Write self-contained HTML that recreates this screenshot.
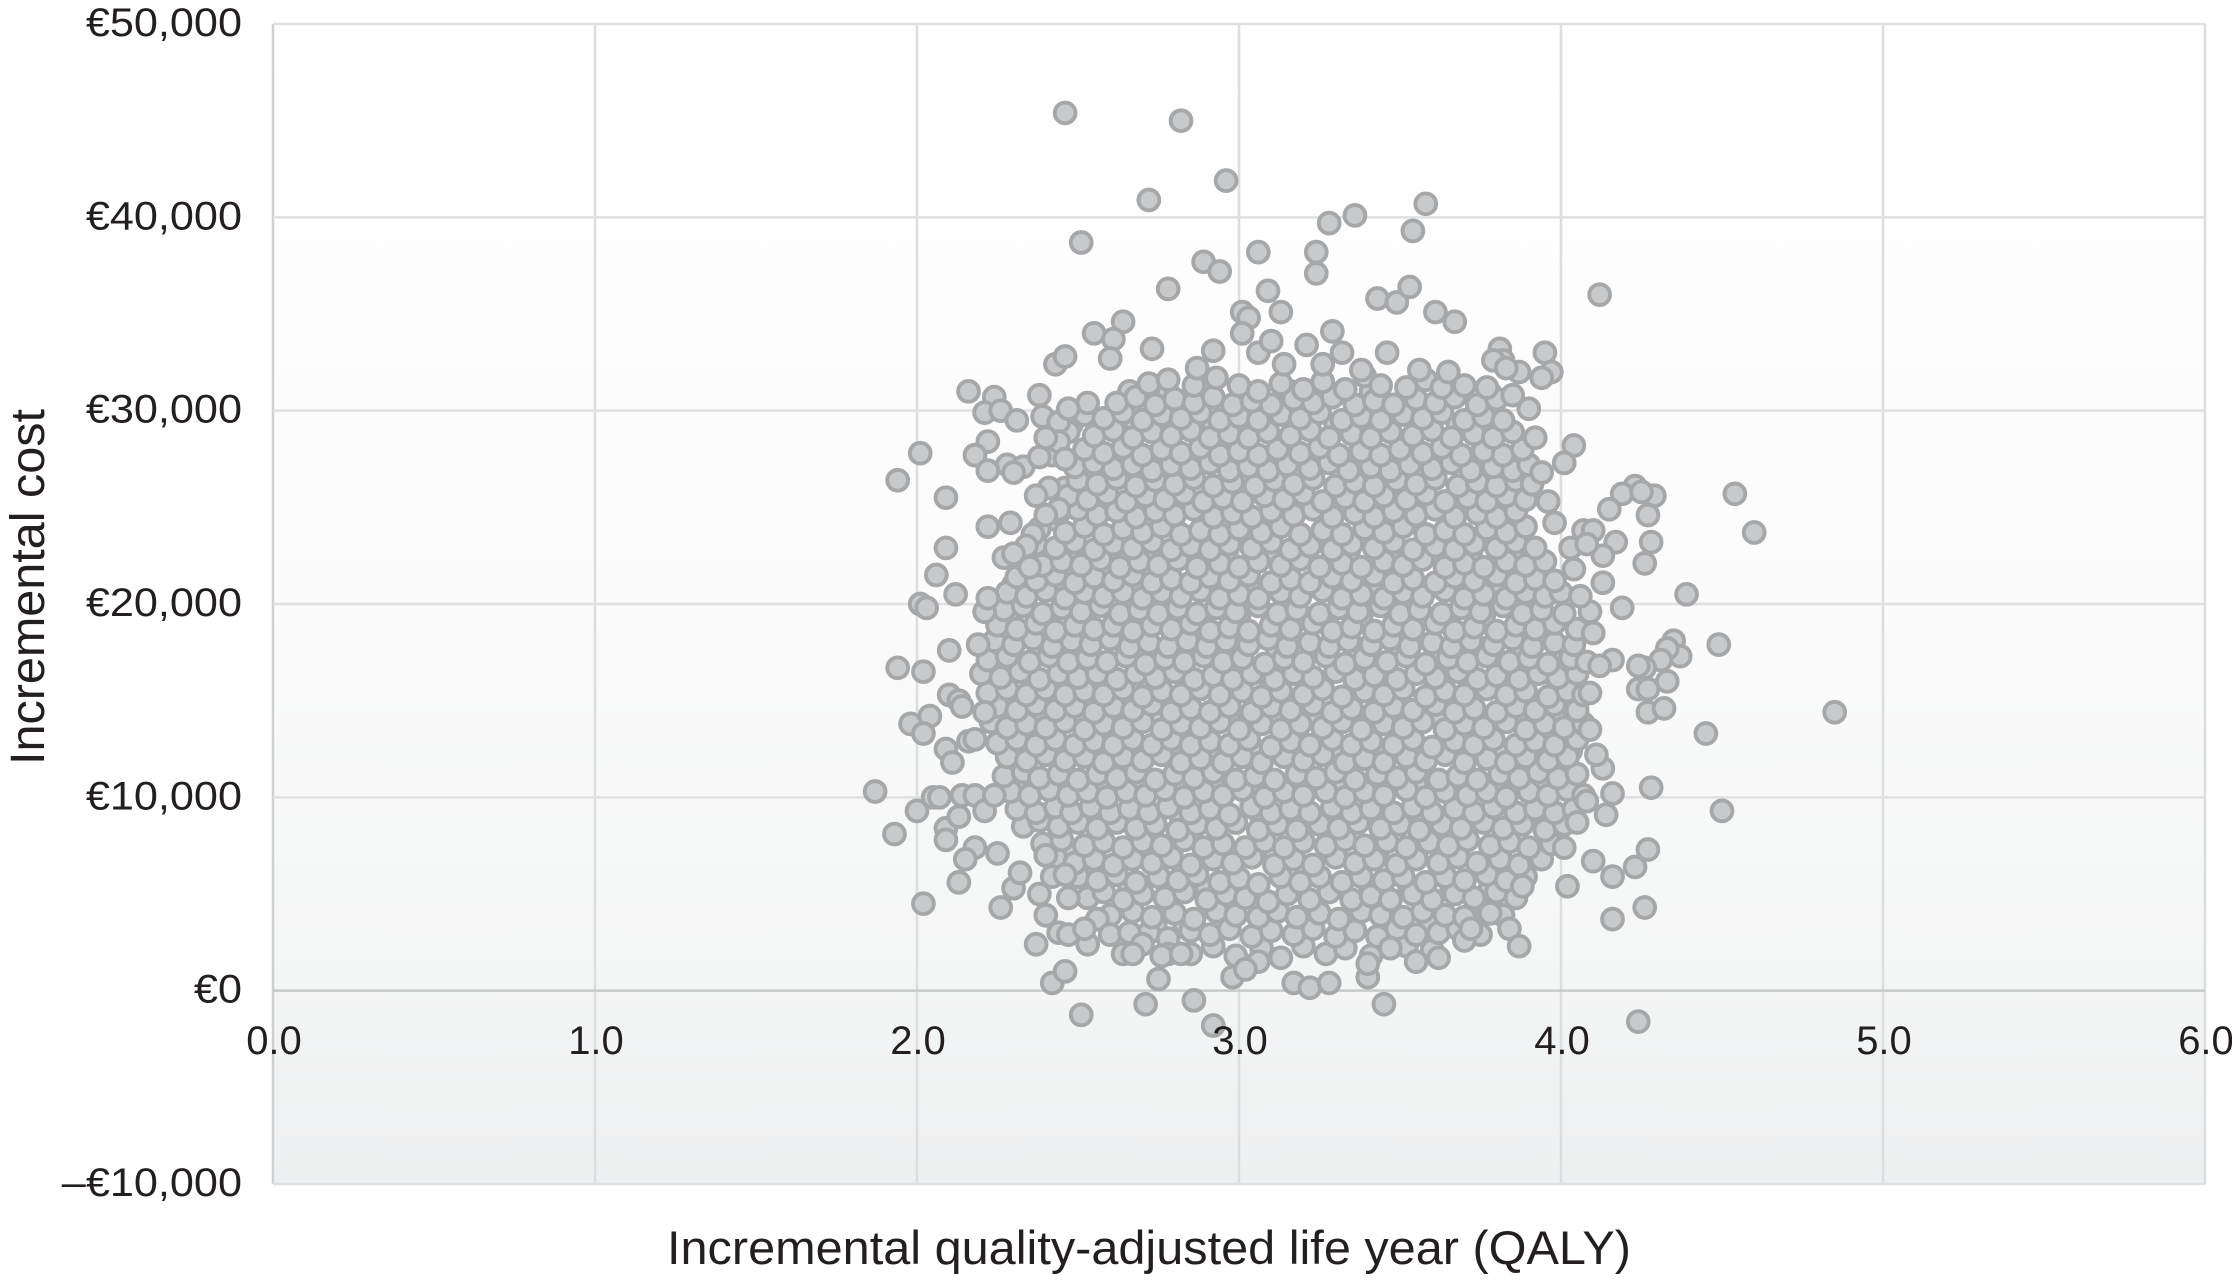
<!DOCTYPE html>
<html lang="en">
<head>
<meta charset="utf-8">
<title>Incremental cost-effectiveness scatter plot</title>
<style>
html,body{margin:0;padding:0;background:#fff;}
svg{display:block;}
text{font-family:"Liberation Sans",Arial,sans-serif;fill:#231f20;}
</style>
</head>
<body>
<svg id="chart" width="2232" height="1287" viewBox="0 0 2232 1287" xmlns="http://www.w3.org/2000/svg">
<defs>
<linearGradient id="plotGradient" x1="0" y1="0" x2="0" y2="1">
<stop offset="0" stop-color="#ffffff"/>
<stop offset="0.5" stop-color="#fbfbfb"/>
<stop offset="0.8" stop-color="#f5f6f6"/>
<stop offset="1" stop-color="#eeeff0"/>
</linearGradient>
</defs>
<rect x="273" y="24" width="1932" height="1160" fill="url(#plotGradient)"/>
<g id="grid"></g>
<g id="points"></g>
<g id="xticks"></g>
<g id="yticks"></g>
<text id="xtitle" x="667" y="1264" font-size="47" textLength="964" lengthAdjust="spacingAndGlyphs">Incremental quality-adjusted life year (QALY)</text>
<text id="ytitle" transform="translate(44,587) rotate(-90)" text-anchor="middle" font-size="48" textLength="356" lengthAdjust="spacingAndGlyphs">Incremental cost</text>
</svg>
<script>
const xTickValues=[0,1,2,3,4,5,6];
const xTickLabels=["0.0","1.0","2.0","3.0","4.0","5.0","6.0"];
const yTickValues=[50,40,30,20,10,0,-10];
const yTickLabels=["€50,000","€40,000","€30,000","€20,000","€10,000","€0","–€10,000"];
// each pair: [incremental QALY, incremental cost in thousand euro]
const fillPoints=[
[2.74,3.4],[2.83,3.5],[2.95,3.5],[3.08,3.4],[3.2,3.5],[3.34,3.4],[3.46,3.5],[3.59,3.4],[3.71,3.5],
[2.56,5.3],[2.66,5.3],[2.78,5.4],[2.9,5.3],[3.03,5.2],[3.16,5.3],[3.28,5.4],[3.41,5.3],[3.53,5.3],[3.66,5.4],[3.78,5.3],
[2.46,7.3],[2.55,7.1],[2.67,7.2],[2.79,7.1],[2.92,7.2],[3.05,7.1],[3.17,7.2],[3.3,7.1],[3.43,7.2],[3.55,7.1],[3.68,7.2],[3.81,7.1],[3.93,7.2],
[2.36,9],[2.46,8.9],[2.58,8.9],[2.7,8.9],[2.82,9],[2.94,8.9],[3.07,9],[3.19,8.9],[3.32,9],[3.45,8.9],[3.57,9],[3.7,8.9],[3.82,9],[3.95,8.9],
[2.32,10.7],[2.44,10.7],[2.56,10.7],[2.68,10.6],[2.8,10.7],[2.92,10.7],[3.05,10.6],[3.17,10.7],[3.3,10.6],[3.42,10.7],[3.55,10.6],[3.67,10.7],[3.8,10.6],[3.93,10.7],[4.04,10.6],
[2.3,12.5],[2.43,12.5],[2.55,12.4],[2.67,12.5],[2.79,12.4],[2.91,12.5],[3.04,12.4],[3.17,12.5],[3.29,12.4],[3.42,12.5],[3.54,12.4],[3.67,12.5],[3.8,12.4],[3.92,12.5],[4.03,12.4],
[2.26,14.3],[2.37,14.2],[2.49,14.2],[2.61,14.2],[2.73,14.3],[2.85,14.2],[2.97,14.3],[3.1,14.2],[3.23,14.2],[3.35,14.2],[3.48,14.3],[3.61,14.2],[3.73,14.2],[3.86,14.3],[3.98,14.2],
[2.25,16],[2.37,15.9],[2.49,15.9],[2.61,16],[2.73,15.9],[2.85,15.9],[2.97,16],[3.1,15.9],[3.23,15.9],[3.36,16],[3.48,15.9],[3.61,15.9],[3.73,16],[3.86,15.9],[3.99,15.9],
[2.27,17.7],[2.39,17.6],[2.51,17.6],[2.63,17.7],[2.75,17.6],[2.87,17.6],[2.99,17.7],[3.12,17.6],[3.25,17.6],[3.37,17.7],[3.5,17.6],[3.63,17.6],[3.75,17.7],[3.88,17.6],[4,17.6],
[2.28,19.4],[2.4,19.3],[2.52,19.3],[2.64,19.4],[2.76,19.3],[2.88,19.3],[3,19.4],[3.13,19.3],[3.26,19.3],[3.38,19.4],[3.51,19.3],[3.64,19.3],[3.76,19.4],[3.89,19.3],[4,19.3],
[2.3,21],[2.43,21],[2.55,21],[2.67,21],[2.79,21.1],[2.91,21],[3.03,21],[3.16,21],[3.29,21.1],[3.41,21],[3.54,21],[3.66,21],[3.79,21.1],[3.92,21],
[2.36,22.7],[2.48,22.7],[2.6,22.7],[2.72,22.7],[2.84,22.6],[2.96,22.7],[3.09,22.7],[3.21,22.6],[3.34,22.7],[3.47,22.7],[3.59,22.6],[3.72,22.7],[3.85,22.7],
[2.42,24.4],[2.53,24.4],[2.65,24.3],[2.77,24.4],[2.89,24.4],[3.02,24.3],[3.14,24.4],[3.27,24.4],[3.4,24.3],[3.52,24.4],[3.65,24.4],[3.77,24.3],
[2.46,26],[2.58,26],[2.7,26],[2.82,25.9],[2.94,26],[3.07,26],[3.19,25.9],[3.32,26],[3.45,26],[3.57,25.9],[3.7,26],[3.82,26],
[2.42,27.7],[2.52,27.7],[2.62,27.6],[2.74,27.6],[2.86,27.7],[2.98,27.6],[3.11,27.6],[3.24,27.7],[3.36,27.6],[3.49,27.6],[3.62,27.7],[3.74,27.6],[3.87,27.6],
[2.48,29.3],[2.57,29.3],[2.68,29.3],[2.8,29.2],[2.92,29.3],[3.05,29.3],[3.17,29.2],[3.3,29.3],[3.43,29.3],[3.55,29.2],[3.68,29.3],[3.8,29.3],
[2.66,31],[2.78,30.9],[2.9,31],[3.03,30.9],[3.16,31],[3.28,30.9],[3.41,31],[3.53,30.9],[3.66,31],[3.78,30.9]
];
const corePoints=[
[2.85,1.9],[2.92,2.3],[2.99,1.8],[3.07,2.2],[3.13,1.7],[3.2,2.3],[3.27,1.9],[3.33,2.2],[3.41,1.8],[3.52,2.3],[3.6,2.1],
[2.72,3],[2.78,2.7],[2.85,3.1],[2.91,2.9],[2.97,3.2],[3.04,2.8],[3.1,3.1],[3.17,2.9],[3.23,3.2],[3.3,2.8],[3.36,3.1],[3.43,2.8],[3.49,3.2],[3.55,2.9],[3.62,3],[3.68,3.2],[3.75,2.9],
[2.6,3.9],[2.67,4.1],[2.73,3.8],[2.8,4],[2.86,3.7],[2.93,4.1],[2.99,3.9],[3.06,3.8],[3.12,4.1],[3.18,3.8],[3.25,4],[3.31,3.7],[3.38,4.1],[3.44,3.9],[3.51,3.8],[3.57,4.1],[3.64,3.9],[3.7,3.8],[3.77,4.1],[3.82,3.9],
[2.53,4.8],[2.58,5.1],[2.64,4.7],[2.7,5],[2.77,4.8],[2.83,5.1],[2.9,4.7],[2.96,5],[3.02,4.8],[3.09,4.6],[3.15,5],[3.22,4.7],[3.28,5.1],[3.35,4.7],[3.41,4.9],[3.47,4.7],[3.54,5],[3.6,4.7],[3.67,5],[3.73,4.8],[3.8,5.1],[3.86,4.8],
[2.5,5.9],[2.56,5.7],[2.62,6],[2.68,5.6],[2.75,5.9],[2.81,5.7],[2.87,6],[2.94,5.6],[3,5.8],[3.06,5.5],[3.13,5.9],[3.19,5.6],[3.25,5.9],[3.32,5.6],[3.38,5.9],[3.45,5.7],[3.51,5.9],[3.58,5.6],[3.64,5.9],[3.7,5.7],[3.77,6],[3.83,5.7],[3.89,5.9],
[2.43,6.9],[2.49,6.6],[2.55,6.8],[2.61,6.5],[2.67,6.8],[2.73,6.6],[2.79,6.9],[2.85,6.5],[2.92,6.8],[2.98,6.6],[3.04,6.9],[3.11,6.5],[3.17,6.8],[3.23,6.5],[3.3,6.9],[3.36,6.6],[3.42,6.8],[3.49,6.5],[3.55,6.8],[3.62,6.6],[3.68,6.9],[3.74,6.6],[3.81,6.8],[3.87,6.5],[3.94,6.8],
[2.39,7.6],[2.45,7.8],[2.52,7.5],[2.58,7.7],[2.64,7.4],[2.7,7.7],[2.76,7.5],[2.83,7.8],[2.89,7.4],[2.95,7.6],[3.02,7.4],[3.08,7.7],[3.14,7.4],[3.2,7.7],[3.27,7.5],[3.33,7.8],[3.39,7.5],[3.46,7.7],[3.52,7.4],[3.59,7.7],[3.65,7.5],[3.71,7.8],[3.78,7.5],[3.84,7.7],[3.9,7.4],[3.97,7.6],
[2.33,8.5],[2.38,8.8],[2.44,8.5],[2.5,8.7],[2.56,8.4],[2.62,8.7],[2.68,8.4],[2.74,8.6],[2.81,8.3],[2.87,8.6],[2.93,8.4],[2.99,8.7],[3.06,8.3],[3.12,8.6],[3.18,8.3],[3.25,8.6],[3.31,8.4],[3.37,8.7],[3.44,8.4],[3.5,8.6],[3.56,8.3],[3.63,8.6],[3.69,8.4],[3.76,8.7],[3.82,8.4],[3.88,8.6],[3.95,8.3],[4.01,8.6],
[2.31,9.4],[2.37,9.2],[2.43,9.5],[2.48,9.2],[2.54,9.5],[2.6,9.2],[2.66,9.4],[2.72,9.2],[2.78,9.5],[2.85,9.2],[2.91,9.4],[2.97,9.1],[3.04,9.5],[3.1,9.2],[3.16,9.4],[3.22,9.2],[3.29,9.5],[3.35,9.2],[3.41,9.4],[3.48,9.2],[3.54,9.5],[3.6,9.2],[3.67,9.4],[3.73,9.2],[3.79,9.5],[3.86,9.2],[3.92,9.4],[3.98,9.2],[4.04,9.4],
[2.29,10.3],[2.35,10.1],[2.41,10.4],[2.47,10.1],[2.53,10.3],[2.59,10],[2.65,10.3],[2.71,10.1],[2.77,10.4],[2.83,10],[2.89,10.3],[2.95,10.1],[3.01,10.4],[3.08,10],[3.14,10.3],[3.2,10.1],[3.27,10.3],[3.33,10],[3.39,10.3],[3.45,10.1],[3.52,10.4],[3.58,10],[3.64,10.3],[3.71,10.1],[3.77,10.3],[3.83,10],[3.9,10.3],[3.96,10.1],[4.02,10.4],[4.07,10.1],
[2.27,11.1],[2.33,11.3],[2.38,11],[2.44,11.2],[2.5,10.9],[2.56,11.2],[2.62,11],[2.68,11.3],[2.74,10.9],[2.8,11.2],[2.86,11],[2.92,11.3],[2.99,10.9],[3.05,11.1],[3.11,10.9],[3.18,11.2],[3.24,11],[3.3,11.3],[3.36,10.9],[3.43,11.2],[3.49,11],[3.55,11.3],[3.62,10.9],[3.68,11.1],[3.74,10.9],[3.81,11.2],[3.87,11],[3.93,11.3],[3.99,11],[4.05,11.2],
[2.28,12.1],[2.34,11.9],[2.4,12.2],[2.46,11.9],[2.52,12.1],[2.58,11.8],[2.64,12.1],[2.7,11.9],[2.76,12.2],[2.82,11.8],[2.88,12],[2.95,11.8],[3.01,12.1],[3.07,11.8],[3.14,12.1],[3.2,11.9],[3.26,12.2],[3.33,11.8],[3.39,12],[3.45,11.8],[3.52,12.1],[3.58,11.9],[3.64,12.2],[3.7,11.8],[3.77,12],[3.83,11.8],[3.89,12.1],[3.96,11.9],[4.02,12.1],
[2.25,12.8],[2.31,13],[2.37,12.7],[2.43,13],[2.49,12.7],[2.55,12.9],[2.61,12.7],[2.67,13],[2.73,12.7],[2.79,13],[2.85,12.7],[2.91,12.9],[2.97,12.7],[3.03,13],[3.1,12.6],[3.16,12.9],[3.22,12.7],[3.29,13],[3.35,12.7],[3.41,12.9],[3.48,12.7],[3.54,13],[3.6,12.6],[3.67,12.9],[3.73,12.7],[3.79,13],[3.86,12.7],[3.92,12.9],[3.98,12.7],[4.05,13],
[2.23,13.9],[2.28,13.6],[2.34,13.8],[2.4,13.6],[2.46,13.9],[2.52,13.5],[2.58,13.8],[2.64,13.6],[2.7,13.9],[2.76,13.5],[2.82,13.8],[2.88,13.6],[2.94,13.9],[3,13.5],[3.07,13.8],[3.13,13.5],[3.19,13.8],[3.26,13.6],[3.32,13.9],[3.38,13.5],[3.45,13.8],[3.51,13.6],[3.57,13.9],[3.64,13.5],[3.7,13.8],[3.76,13.6],[3.83,13.9],[3.89,13.5],[3.95,13.8],[4.01,13.6],[4.07,13.8],
[2.25,14.7],[2.31,14.5],[2.37,14.8],[2.43,14.5],[2.49,14.7],[2.55,14.4],[2.61,14.7],[2.67,14.5],[2.73,14.8],[2.79,14.4],[2.85,14.6],[2.91,14.4],[2.97,14.7],[3.04,14.4],[3.1,14.7],[3.16,14.5],[3.23,14.8],[3.29,14.4],[3.35,14.6],[3.42,14.4],[3.48,14.7],[3.54,14.5],[3.61,14.8],[3.67,14.4],[3.73,14.6],[3.8,14.4],[3.86,14.7],[3.92,14.5],[3.98,14.8],[4.05,14.5],
[2.22,15.4],[2.28,15.6],[2.34,15.3],[2.4,15.6],[2.46,15.3],[2.52,15.5],[2.58,15.3],[2.64,15.6],[2.7,15.2],[2.76,15.5],[2.82,15.3],[2.88,15.6],[2.94,15.3],[3.01,15.5],[3.07,15.2],[3.13,15.5],[3.2,15.3],[3.26,15.6],[3.32,15.2],[3.39,15.5],[3.45,15.3],[3.51,15.6],[3.58,15.2],[3.64,15.5],[3.7,15.3],[3.77,15.6],[3.83,15.3],[3.89,15.5],[3.96,15.2],[4.02,15.5],[4.07,15.3],
[2.2,16.4],[2.26,16.2],[2.32,16.5],[2.38,16.1],[2.44,16.4],[2.5,16.2],[2.56,16.4],[2.62,16.1],[2.68,16.4],[2.74,16.2],[2.8,16.5],[2.86,16.1],[2.92,16.3],[2.98,16.1],[3.04,16.4],[3.11,16.1],[3.17,16.4],[3.23,16.2],[3.3,16.5],[3.36,16.1],[3.42,16.3],[3.49,16.1],[3.55,16.4],[3.61,16.2],[3.68,16.5],[3.74,16.1],[3.8,16.3],[3.87,16.1],[3.93,16.4],[3.99,16.2],[4.05,16.4],
[2.22,17.1],[2.28,17.3],[2.35,17],[2.41,17.3],[2.47,17],[2.53,17.2],[2.59,17],[2.65,17.3],[2.71,16.9],[2.77,17.2],[2.83,17],[2.89,17.3],[2.95,17],[3.01,17.2],[3.08,16.9],[3.14,17.2],[3.2,17],[3.27,17.3],[3.33,16.9],[3.39,17.2],[3.46,17],[3.52,17.3],[3.58,16.9],[3.65,17.2],[3.71,17],[3.77,17.3],[3.84,17],[3.9,17.2],[3.96,16.9],[4.03,17.2],[4.08,17],
[2.24,18.1],[2.3,17.9],[2.36,18.2],[2.42,17.8],[2.48,18.1],[2.54,17.9],[2.6,18.2],[2.66,17.8],[2.72,18],[2.78,17.8],[2.84,18.1],[2.9,17.8],[2.96,18.1],[3.03,17.9],[3.09,18.2],[3.15,17.8],[3.22,18],[3.28,17.8],[3.34,18.1],[3.41,17.9],[3.47,18.2],[3.53,17.8],[3.6,18],[3.66,17.8],[3.72,18.1],[3.79,17.9],[3.85,18.2],[3.91,17.8],[3.98,18],[4.04,17.9],
[2.25,18.9],[2.31,18.7],[2.37,19],[2.43,18.6],[2.49,18.9],[2.55,18.7],[2.61,18.9],[2.67,18.6],[2.73,18.9],[2.79,18.7],[2.85,19],[2.91,18.6],[2.97,18.8],[3.03,18.6],[3.1,18.9],[3.16,18.7],[3.23,19],[3.29,18.6],[3.35,18.8],[3.42,18.6],[3.48,18.9],[3.54,18.7],[3.61,19],[3.67,18.6],[3.73,18.8],[3.8,18.6],[3.86,18.9],[3.92,18.7],[3.98,19],[4.05,18.7],
[2.27,19.7],[2.33,19.9],[2.39,19.5],[2.45,19.8],[2.51,19.6],[2.57,19.9],[2.63,19.5],[2.69,19.7],[2.75,19.5],[2.81,19.8],[2.87,19.5],[2.93,19.8],[2.99,19.6],[3.06,19.9],[3.12,19.5],[3.18,19.7],[3.25,19.5],[3.31,19.8],[3.37,19.6],[3.44,19.9],[3.5,19.5],[3.56,19.7],[3.63,19.5],[3.69,19.8],[3.75,19.6],[3.82,19.9],[3.88,19.5],[3.94,19.7],[4.01,19.5],
[2.28,20.6],[2.34,20.4],[2.4,20.7],[2.46,20.3],[2.52,20.6],[2.58,20.4],[2.64,20.6],[2.7,20.3],[2.76,20.6],[2.82,20.4],[2.88,20.7],[2.94,20.3],[3,20.5],[3.06,20.3],[3.13,20.6],[3.19,20.4],[3.26,20.7],[3.32,20.3],[3.38,20.5],[3.45,20.3],[3.51,20.6],[3.57,20.4],[3.64,20.7],[3.7,20.3],[3.76,20.5],[3.83,20.3],[3.89,20.6],[3.95,20.4],[4,20.6],
[2.31,21.4],[2.37,21.2],[2.43,21.5],[2.49,21.1],[2.55,21.4],[2.61,21.2],[2.67,21.5],[2.73,21.1],[2.79,21.3],[2.85,21.1],[2.91,21.4],[2.97,21.2],[3.03,21.5],[3.1,21.1],[3.16,21.3],[3.22,21.1],[3.29,21.4],[3.35,21.2],[3.42,21.5],[3.48,21.1],[3.54,21.3],[3.61,21.1],[3.67,21.4],[3.73,21.2],[3.8,21.5],[3.86,21.1],[3.92,21.3],[3.98,21.2],
[2.33,22.3],[2.39,22],[2.45,22.2],[2.51,22],[2.57,22.3],[2.63,21.9],[2.69,22.2],[2.75,22],[2.81,22.3],[2.87,21.9],[2.94,22.1],[3,21.9],[3.06,22.2],[3.13,22],[3.19,22.3],[3.25,21.9],[3.32,22.1],[3.38,21.9],[3.45,22.2],[3.51,22],[3.57,22.3],[3.64,21.9],[3.7,22.1],[3.76,21.9],[3.83,22.2],[3.89,22],[3.95,22.2],
[2.37,23.1],[2.43,22.9],[2.49,23.2],[2.55,22.8],[2.61,23.1],[2.67,22.9],[2.73,23.2],[2.79,22.8],[2.85,23],[2.91,22.8],[2.97,23.1],[3.04,22.9],[3.1,23.2],[3.16,22.8],[3.22,23],[3.29,22.8],[3.35,23.1],[3.42,22.9],[3.48,23.2],[3.54,22.8],[3.61,23],[3.67,22.8],[3.73,23.1],[3.8,22.9],[3.86,23.2],[3.92,22.9],
[2.38,23.9],[2.46,23.7],[2.52,24],[2.58,23.6],[2.64,23.9],[2.7,23.7],[2.76,24],[2.82,23.6],[2.88,23.8],[2.94,23.6],[3,23.9],[3.07,23.7],[3.13,24],[3.19,23.6],[3.26,23.8],[3.32,23.6],[3.39,23.9],[3.45,23.7],[3.51,24],[3.58,23.6],[3.64,23.8],[3.7,23.6],[3.77,23.9],[3.83,23.7],[3.89,24],
[2.44,24.7],[2.5,24.9],[2.56,24.6],[2.62,24.8],[2.68,24.5],[2.74,24.8],[2.8,24.6],[2.86,24.9],[2.92,24.5],[2.98,24.7],[3.04,24.5],[3.1,24.8],[3.17,24.6],[3.23,24.9],[3.29,24.5],[3.36,24.7],[3.42,24.5],[3.48,24.8],[3.55,24.6],[3.61,24.9],[3.67,24.5],[3.74,24.7],[3.8,24.5],[3.86,24.8],
[2.47,25.6],[2.53,25.4],[2.59,25.7],[2.65,25.3],[2.71,25.6],[2.77,25.4],[2.83,25.7],[2.89,25.3],[2.95,25.5],[3.01,25.3],[3.08,25.6],[3.14,25.4],[3.2,25.7],[3.26,25.3],[3.33,25.5],[3.39,25.3],[3.45,25.6],[3.52,25.4],[3.58,25.7],[3.64,25.3],[3.71,25.5],[3.77,25.3],[3.83,25.6],[3.89,25.4],
[2.5,26.4],[2.56,26.2],[2.62,26.5],[2.68,26.1],[2.74,26.4],[2.8,26.2],[2.86,26.5],[2.92,26.1],[2.98,26.3],[3.05,26.1],[3.11,26.4],[3.17,26.2],[3.23,26.5],[3.3,26.1],[3.36,26.3],[3.42,26.1],[3.49,26.4],[3.55,26.2],[3.61,26.5],[3.68,26.1],[3.74,26.3],[3.8,26.1],[3.86,26.4],[3.91,26.2],
[2.49,27.1],[2.55,27.3],[2.61,27],[2.67,27.2],[2.73,26.9],[2.79,27.2],[2.85,27],[2.91,27.3],[2.97,26.9],[3.03,27.1],[3.09,26.9],[3.15,27.2],[3.22,27],[3.28,27.3],[3.34,26.9],[3.41,27.1],[3.47,26.9],[3.53,27.2],[3.6,27],[3.66,27.3],[3.72,26.9],[3.79,27.1],[3.85,26.9],[3.9,27.2],
[2.52,28],[2.58,27.8],[2.64,28.1],[2.7,27.7],[2.76,28],[2.82,27.8],[2.88,28.1],[2.94,27.7],[3,27.9],[3.06,27.7],[3.12,28],[3.19,27.8],[3.25,28.1],[3.31,27.7],[3.38,27.9],[3.44,27.7],[3.5,28],[3.57,27.8],[3.63,28.1],[3.69,27.7],[3.76,27.9],[3.82,27.7],[3.88,28],
[2.47,28.9],[2.55,28.7],[2.61,29],[2.67,28.6],[2.73,28.9],[2.79,28.7],[2.85,29],[2.91,28.6],[2.97,28.8],[3.03,28.6],[3.09,28.9],[3.16,28.7],[3.22,29],[3.28,28.6],[3.35,28.8],[3.41,28.6],[3.47,28.9],[3.54,28.7],[3.6,29],[3.66,28.6],[3.73,28.8],[3.79,28.6],[3.85,28.9],
[2.52,29.8],[2.58,29.6],[2.64,29.9],[2.7,29.5],[2.76,29.8],[2.82,29.6],[2.88,29.9],[2.94,29.5],[3,29.7],[3.06,29.5],[3.13,29.8],[3.19,29.6],[3.25,29.9],[3.32,29.5],[3.38,29.7],[3.44,29.5],[3.51,29.8],[3.57,29.6],[3.63,29.9],[3.7,29.5],[3.76,29.7],[3.82,29.5],
[2.62,30.4],[2.68,30.7],[2.74,30.3],[2.8,30.6],[2.86,30.4],[2.92,30.7],[2.98,30.3],[3.04,30.5],[3.1,30.3],[3.17,30.6],[3.23,30.4],[3.29,30.7],[3.36,30.3],[3.42,30.5],[3.48,30.3],[3.55,30.6],[3.61,30.4],[3.67,30.7],[3.74,30.3],[3.8,30.6],
[2.72,31.4],[2.78,31.6],[2.86,31.3],[2.93,31.7],[3,31.3],[3.06,31],[3.13,31.4],[3.2,31.1],[3.26,31.5],[3.33,31.1],[3.39,31.8],[3.44,31.3],[3.52,31.2],[3.58,31.6],[3.63,31.2],[3.7,31.3],[3.77,31.2]
];
const edgePoints=[
[2.46,45.4],[2.82,45],[2.96,41.9],[2.72,40.9],[3.28,39.7],[3.36,40.1],[3.58,40.7],[3.54,39.3],[2.51,38.7],[3.06,38.2],[3.24,38.2],[3.24,37.1],[2.89,37.7],[2.94,37.2],[2.78,36.3],[3.09,36.2],[3.43,35.8],[3.49,35.6],[3.53,36.4],[4.12,36],[3.61,35.1],[3.67,34.6],[3.13,35.1],[3.01,35.1],[3.03,34.8],[3.01,34],[2.64,34.6],[2.55,34],[2.61,33.7],[3.29,34.1],[2.43,32.4],[2.46,32.8],[2.73,33.2],[2.6,32.7],[2.92,33.1],[3.32,33],[3.21,33.4],[3.46,33],[3.95,33],[3.81,33.2],[3.97,32],[3.94,31.7],[3.65,32],[3.87,32],[3.82,32.6],[3.79,32.6],[3.83,32.2],[2.87,32.2],[3.06,33],[3.1,33.6],[3.14,32.4],[3.26,32.4],[3.38,32.1],[3.56,32.1],
[2.16,31],[2.24,30.7],[2.38,30.8],[2.53,30.4],[2.21,29.9],[2.26,30],[2.31,29.5],[2.39,29.7],[2.44,29.4],[2.22,28.4],[2.18,27.7],[2.01,27.8],[1.94,26.4],[2.09,25.5],[2.28,27.2],[2.33,27.1],[2.3,26.8],[2.22,26.9],[2.38,27.6],[2.44,28.4],[2.41,26],[2.44,24.9],[2.22,24],[2.29,24.2],[2.09,22.9],[2.06,21.5],[2.12,20.5],[2.01,20],[2.03,19.8],[2.21,19.6],[2.22,20.3],[2.27,22.4],[2.1,17.6],[2.19,17.9],[1.94,16.7],[2.02,16.5],[2.1,15.3],[2.13,15],[2.14,14.7],[2.04,14.2],[2.21,14.4],[1.98,13.8],[2.02,13.3],[2.09,12.5],[2.16,12.9],[2.18,13],[2.11,11.8],[1.87,10.3],[2.05,10],[2.07,10],[2,9.3],[1.93,8.1],[2.09,8.4],[2.09,7.8],[2.14,10.1],[2.18,10.1],[2.21,9.3],[2.24,10.1],[2.13,9],[2.18,7.4],[2.15,6.8],[2.25,7.1],[2.13,5.6],[2.02,4.5],[2.26,4.3],[2.3,5.3],[2.32,6.1],[2.38,5],[2.4,7],[2.37,2.4],[2.4,3.9],[2.42,0.4],[2.46,1],[2.51,-1.25],[2.53,2.4],[2.44,3],[2.47,2.9],
[2.36,23.6],[2.4,24.6],[2.34,23],[2.3,22.6],[2.37,25.6],[2.46,27.5],[2.4,28.6],[2.47,30.1],[2.35,21.9],[2.42,5.9],[2.47,4.8],[2.46,6],[2.56,3.7],[2.52,3.2],[2.6,2.9],[2.66,3],[2.7,2.4],[2.78,1.9],
[2.71,-0.7],[2.86,-0.5],[2.92,-1.8],[3.45,-0.7],[4.24,-1.6],[4.26,4.3],[2.75,0.6],[2.64,1.9],[2.67,1.9],[2.76,1.8],[2.82,1.9],[2.98,0.7],[3.06,1.5],[3.02,1.1],[3.17,0.4],[3.22,0.15],[3.28,0.4],[3.4,0.7],[3.4,1.4],[3.47,2.2],[3.55,1.5],[3.62,1.7],[3.7,2.6],[3.72,3.2],[3.84,3.2],[3.87,2.3],[3.78,4],[3.88,5.4],[4.02,5.4],[4.16,3.7],[4.16,5.9],[4.1,6.7],[4.23,6.4],[4.27,7.3],[4.28,10.5],[4.14,9.1],[4.5,9.3],[4.45,13.3],[4.85,14.4],[4.49,17.9],[4.39,20.5],[4.19,19.8],[4.6,23.7],[4.54,25.7],[4.23,26.1],[4.19,25.7],[4.29,25.6],[4.25,25.8],[4.27,24.6],[4.15,24.9],[4.28,23.2],[4.26,22.1],[4.17,23.2],[4.13,22.5],[4.04,28.2],[4.01,27.3],[4.13,21.1],[4.07,23.8],[4.1,23.8],[4.03,22.9],[4.08,23.1],[4.09,19.6],[4.1,18.5],[4.35,18.1],[4.37,17.3],[4.33,17.7],[4.31,17.1],[4.33,16],[4.26,16.7],[4.24,16.8],[4.16,17.1],[4.12,16.8],[4.24,15.6],[4.27,15.6],[4.27,14.4],[4.32,14.6],[4.09,13.5],[4.13,11.5],[4.16,10.2],[4.05,8.7],[4.01,7.4],[4.09,15.4],[4.11,12.2],[4.08,9.8],[4.06,20.4],[4.04,21.8],[3.98,24.2],[3.96,25.3],[3.94,26.8],[3.92,28.6],[3.9,30.1],[3.85,30.8]
];

const SVG_NS="http://www.w3.org/2000/svg";
const PLOT_LEFT=273,PLOT_RIGHT=2205,PLOT_TOP=24,PLOT_BOTTOM=1184;
const X_MIN=0,X_MAX=6,Y_MIN=-10,Y_MAX=50;
function xScale(v){return PLOT_LEFT+(v-X_MIN)/(X_MAX-X_MIN)*(PLOT_RIGHT-PLOT_LEFT);}
function yScale(v){return PLOT_BOTTOM-(v-Y_MIN)/(Y_MAX-Y_MIN)*(PLOT_BOTTOM-PLOT_TOP);}

const grid=document.getElementById("grid");
xTickValues.forEach(function(v){
  const line=document.createElementNS(SVG_NS,"line");
  line.setAttribute("x1",xScale(v));line.setAttribute("x2",xScale(v));
  line.setAttribute("y1",PLOT_TOP);line.setAttribute("y2",PLOT_BOTTOM);
  line.setAttribute("stroke",(v===0)?"#cfd0d1":"#dcddde");
  line.setAttribute("stroke-width","2.5");
  
  
  grid.appendChild(line);
});
yTickValues.forEach(function(v){
  const line=document.createElementNS(SVG_NS,"line");
  line.setAttribute("x1",PLOT_LEFT);line.setAttribute("x2",PLOT_RIGHT);
  line.setAttribute("y1",yScale(v));line.setAttribute("y2",yScale(v));
  line.setAttribute("stroke",(v===0)?"#c9cacb":"#dfe0e1");
  line.setAttribute("stroke-width","2.5");
  
  
  grid.appendChild(line);
});

const pointsGroup=document.getElementById("points");
fillPoints.concat(corePoints,edgePoints).forEach(function(p){
  const c=document.createElementNS(SVG_NS,"circle");
  c.setAttribute("cx",xScale(p[0]));
  c.setAttribute("cy",yScale(p[1]));
  c.setAttribute("r","10.4");
  c.setAttribute("fill","#c8c9cb");
  c.setAttribute("stroke","#a6a7a9");
  c.setAttribute("stroke-width","3.9");
  
  
  pointsGroup.appendChild(c);
});

const xticks=document.getElementById("xticks");
xTickValues.forEach(function(v,i){
  const t=document.createElementNS(SVG_NS,"text");
  t.setAttribute("x",xScale(v)+1);
  t.setAttribute("y",1054);
  t.setAttribute("text-anchor","middle");
  t.setAttribute("font-size","40");
  t.textContent=xTickLabels[i];
  
  
  xticks.appendChild(t);
});
const yticks=document.getElementById("yticks");
yTickValues.forEach(function(v,i){
  const t=document.createElementNS(SVG_NS,"text");
  t.setAttribute("x",242);
  t.setAttribute("y",yScale(v)+12);
  t.setAttribute("text-anchor","end");
  t.setAttribute("font-size","40");
  t.textContent=yTickLabels[i];
  
  
  yticks.appendChild(t);
  t.setAttribute("textLength",t.getComputedTextLength()*1.08);
  t.setAttribute("lengthAdjust","spacingAndGlyphs");
});
</script>
</body>
</html>
